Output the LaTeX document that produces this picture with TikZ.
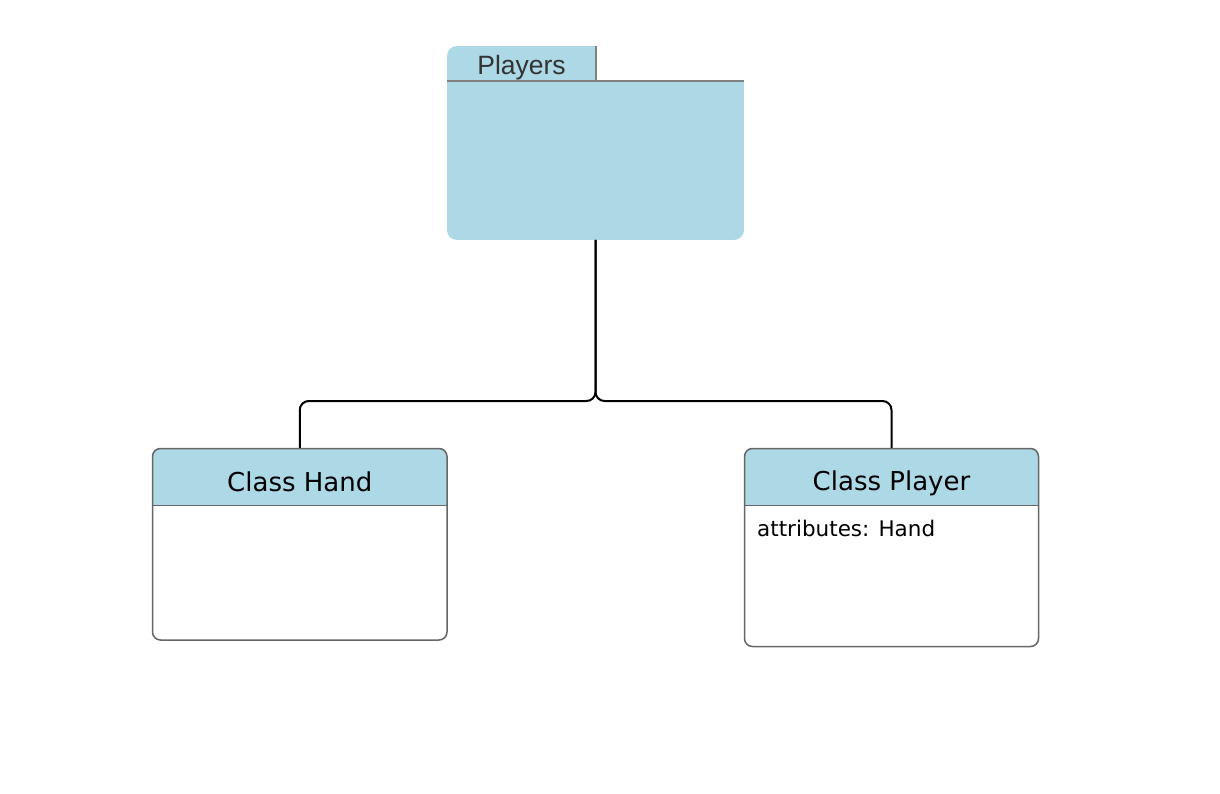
\documentclass[tikz,border=0pt]{standalone}
\usepackage{fontspec}
\setmainfont{DejaVu Sans}
\newfontfamily\pkgfont{Liberation Sans}
\usetikzlibrary{calc}
\definecolor{pkgblue}{RGB}{173,216,230}
\definecolor{edgegray}{RGB}{102,102,102}
\definecolor{tabgray}{RGB}{128,128,128}
\definecolor{pkgtext}{RGB}{51,51,51}

\begin{document}
\begin{tikzpicture}[x=1pt, y=-1pt,
		box/.style={inner sep=0pt, outer sep=0pt},
		title/.style={font=\fontsize{26}{30}\selectfont, anchor=base, inner sep=0pt},
		conn/.style={draw=black, line width=2pt, rounded corners=9pt},
		outline/.style={draw=edgegray, line width=1.5pt, rounded corners=8pt}]
		\useasboundingbox (0,0) rectangle (1220,794);
		% package Players
		\node[box, minimum width=297pt, minimum height=159pt] (pkg) at (595.5,160.5) {};
		\node[box, minimum width=149pt, minimum height=35pt] (tab) at (521.5,63.5) {};
		\begin{scope}
			\clip[rounded corners=10pt] (tab.north west) rectangle (pkg.south east);
			\fill[pkgblue] (tab.north west) rectangle (tab.south east);
			\fill[pkgblue] (pkg.north west) rectangle (pkg.south east);
		\end{scope}
		\draw[tabgray, line width=1.5pt] (tab.north east) -- (tab.south east);
		\draw[tabgray, line width=1.5pt] (pkg.north west) -- (pkg.north east);
		\node[title, font=\pkgfont\fontsize{26.5}{30}\selectfont, text=pkgtext] (pkgname) at (521.5,75) {Players};
%
		\node[box, minimum width=294.5pt, minimum height=191.5pt] (hand) at (299.75,544.25) {};
		\node[box, minimum width=294pt, minimum height=198pt] (player) at (891.5,547.5) {};
		\coordinate (fork) at (595.5,401);
		\draw[conn] (pkg.south) |- (hand.north |- fork) -- (hand.north);
		\draw[conn] (pkg.south) |- (player.north |- fork) -- (player.north);
		\foreach \c in {hand, player} {
			\begin{scope}
				\clip[rounded corners=8pt] (\c.north west) rectangle (\c.south east);
				\fill[pkgblue] (\c.north west) rectangle ($(\c.north east)+(0,57)$);
			\end{scope}
			\draw[outline] (\c.north west) rectangle (\c.south east);
			\draw[edgegray, line width=1.5pt] ($(\c.north west)+(0,57)$) -- ($(\c.north east)+(0,57)$);
		}
		\node[title] (handname) at (299.75,491) {Class Hand};
		\node[title] (playername) at (891.5,490.5) {Class Player};
		\node[anchor=base west, inner sep=0pt, font=\fontsize{21.5}{26}\selectfont] (playerattr) at (757,536) {attributes: Hand};
	\end{tikzpicture}
\end{document}
